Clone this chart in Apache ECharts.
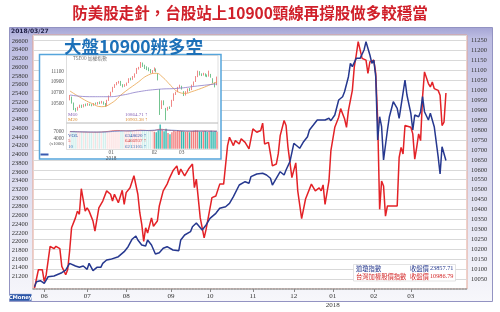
<!DOCTYPE html>
<html>
<head>
<meta charset="utf-8">
<script src="https://cdn.jsdelivr.net/npm/echarts@6.0.0/dist/echarts.min.js"></script>
<style>
html,body{margin:0;padding:0;background:#ffffff;}
#chart{width:500px;height:312px;}
</style>
</head>
<body>
<div id="chart"></div>
<script>
// ---------------- main chart data (x = trading-day index from 2017/05/24) ----------------
const djDays = [
0,1,3,5,7,10,11,14,16,18,
19,21,23,25,27,28,30,32,34,35,
37,39,40,43,46,48,50,52,53,55,
57,58,60,62,64,66,68,69,71,74,
75,77,80,81,83,86,88,90,93,95,
98,100,102,105,106,108,110,111,114,117,
119,121,122,124,126,128,129,131,133,134,
136,138,140,141,143,145,146,149,151,152,
154,156,158,159,161,162,163,165,167,169,
170,172,173,174,175,176,177,178,179,181,
182,184,186,187,190,191,193,194,195,197,
198,199,200,202,203,205,206,207,208,209,
211];
const djValues = [
20964,21078,21102,21041,21193,21209,21179,21285,21347,21501,
21538,21439,21409,21439,21363,21501,21332,21409,21409,21501,
21577,21592,21562,21653,21768,21882,22052,22127,22036,21921,
21898,22036,21921,21714,21745,21845,21882,21845,21806,21790,
22036,22150,22226,22341,22425,22265,22380,22533,22648,22763,
22799,22877,23029,23297,23336,23373,23336,23488,23549,23566,
23527,23451,23297,23451,23602,23527,23641,23832,24254,24215,
24139,24290,24405,24559,24673,24788,24749,24788,24827,24772,
24903,25247,25322,25437,25781,26089,26011,26203,26203,26394,
26584,26279,26089,26164,25781,24329,24864,24634,23870,24559,
24864,25208,25056,24827,25705,25361,24942,24559,24903,24864,
24978,25322,24978,24788,24942,24634,24634,23946,23549,24175,
23857.71];

const twDays = [
0,2,3,4,5,6,8,10,11,13,
14,15,16,17,18,19,21,22,23,24,
25,26,27,28,30,31,32,33,34,35,
37,39,40,41,43,45,46,47,49,51,
52,53,54,55,56,57,58,60,61,63,
64,66,68,69,71,73,74,75,77,79,
81,82,83,85,87,88,89,91,93,95,
97,99,100,102,103,105,106,108,110,112,
114,116,117,118,120,121,122,124,125,126,
128,129,130,131,132,134,135,137,138,139,
140,142,144,146,147,148,149,151,152,154,
156,157,159,160,161,163,164,165,166,167,
168,169,170,171,172,174,175,176,177,178,
179,180,181,186,187,188,189,190,191,193,
194,195,196,197,198,199,200,202,203,204,
205,207,208,209,210,211];
const twValues = [
10004,10097,10102,10097,10038,10072,10215,10203,10215,10203,
10114,10122,10072,10097,10190,10308,10358,10392,10376,10505,
10505,10392,10409,10392,10342,10291,10288,10409,10418,10443,
10494,10477,10443,10477,10434,10497,10426,10485,10510,10570,
10561,10477,10384,10325,10240,10308,10282,10358,10316,10342,
10418,10494,10528,10553,10595,10620,10575,10604,10570,10604,
10629,10510,10553,10358,10257,10300,10291,10460,10468,10528,
10528,10722,10764,10722,10747,10730,10756,10738,10705,10806,
10789,10798,10835,10730,10738,10680,10620,10629,10680,10772,
10848,10823,10713,10705,10561,10635,10494,10354,10350,10453,
10463,10528,10494,10509,10494,10524,10426,10544,10696,10814,
10865,10908,10857,10814,10899,11000,11118,11178,11245,11253,
11161,11169,11152,11085,11144,11152,11085,10848,10401,10544,
10519,10367,10418,10418,10662,10713,10680,10823,10832,10814,
10781,10654,10713,10781,10747,10966,11093,11034,11017,11042,
11009,11000,10975,10823,10840,10986.79];

const monthTickIdx = [5,27,47,70,90,112,133,153,174,193];
const monthLabels = ['06','07','08','09','10','11','12','01\n2018','02','03'];
const seriesNames = ['道瓊指數','台灣加權股價指數'];

// ---------------- inset (TSE daily candles 2017/12 - 2018/03) ----------------
const insetOHLC = [
[10580,10640,10560,10660],[10620,10520,10500,10630],[10510,10400,10380,10520],[10400,10380,10350,10420],[10390,10420,10370,10440],
[10430,10460,10420,10480],[10460,10440,10420,10480],[10440,10480,10430,10490],[10480,10470,10450,10500],[10470,10490,10460,10510],
[10490,10480,10460,10500],[10480,10470,10450,10490],[10470,10500,10460,10510],[10500,10490,10480,10520],[10490,10520,10480,10530],
[10520,10510,10490,10540],[10510,10530,10500,10550],[10530,10500,10480,10540],[10500,10460,10440,10510],[10460,10560,10450,10570],
[10560,10640,10550,10650],
[10650,10710,10640,10720],[10720,10800,10710,10810],[10800,10850,10790,10860],[10850,10880,10840,10900],[10890,10910,10870,10920],
[10910,10850,10830,10920],[10850,10820,10800,10860],[10820,10840,10810,10860],[10840,10880,10830,10890],[10890,10960,10880,10970],
[10960,10950,10930,10980],[10950,11000,10940,11010],[10990,11050,10980,11060],[11060,11150,11050,11160],[11150,11160,11130,11180],
[11170,11250,11160,11270],[11240,11200,11180,11260],[11200,11160,11140,11220],[11160,11150,11120,11190],[11150,11130,11100,11170],
[11120,11080,11060,11140],[11080,11100,11060,11120],
[11110,11150,11100,11170],[11140,11120,11080,11150],[11050,10950,10930,11060],[10760,10400,10290,10770],[10420,10530,10400,10560],
[10520,10500,10470,10560],[10400,10370,10190,10420],[10380,10420,10370,10440],[10430,10420,10400,10450],[10450,10560,10440,10570],
[10560,10680,10550,10690],[10680,10700,10660,10720],[10720,10800,10710,10810],[10800,10830,10790,10850],
[10810,10780,10760,10830],[10720,10660,10640,10730],[10660,10720,10650,10730],[10720,10770,10700,10780],[10770,10750,10730,10790],
[10760,10840,10750,10850],[10840,10900,10830,10910],[10910,11000,10900,11010],[11000,11100,10990,11110],[11090,11040,11020,11100],
[11040,11030,11010,11060],[11030,11050,11020,11070],[11050,11020,11000,11060],[11020,11010,10990,11040],[11010,11060,11000,11110],
[11040,11000,10980,11050],[10960,10900,10880,10970],[10880,10830,10800,10890],[10850,10990,10840,11000]
];
const insetVol = [
7200,7000,7400,6900,6800,6700,7000,6900,7100,6800,6700,6600,6900,6800,6700,7000,6800,7100,7300,7000,7200,
7300,7600,7400,7500,7700,7300,7100,7000,7200,7500,7300,7400,7600,7800,7500,7900,7600,7400,7300,7500,7300,7400,
7000,6800,7600,10000,7800,7200,8200,6500,5900,6800,7400,7100,7600,7300,
7300,7100,6900,7000,6800,7200,7400,7600,7500,7100,7000,7200,7300,6900,7100,7400,7000,7300,7000
];
const insetMA20 = [[0,10733],[6,10598],[11,10505],[16,10443],[21,10505],[27,10690],[34,10876],[40,11030],[44,11061],[47,10998],[52,10813],[55,10720],[59,10690],[62,10720],[67,10783],[72,10857],[75,10903]];
const insetMA60 = [[0,10659],[10,10628],[20,10628],[27,10659],[35,10720],[45,10765],[55,10783],[65,10826],[75,10865]];
const insetVolMA5 = [[0,7100],[6,6900],[12,6800],[18,7000],[24,7500],[30,7300],[36,7600],[42,7400],[46,8000],[50,7600],[56,7300],[62,7200],[68,7300],[75,7200]];
const insetVolMA10 = [[0,7000],[8,6900],[16,6850],[24,7200],[32,7400],[40,7500],[46,7700],[52,7600],[60,7300],[68,7250],[75,7200]];
const insetPriceTicks = [10500,10700,10900,11100];
const insetVolTicks = [4000,7000];
const insetMonthIdx = [21,43,57];
const insetMonthLabels = ['01\n2018','02','03'];
const insetLegendVals = ['10864.71 ↑','10903.38 ↑','6348620 ↑','6466937 ↑','6213105 ↑'];

// ---------------- layout ----------------
const XMIN = -0.77, XMAX = 221.8;
const TW_MAX = 11278.7;
const SERIF = 'Liberation Serif';
const CJK = 'Noto Sans CJK TC';

function txt(x, y, s, size, color, opt) {
  opt = opt || {};
  const align = opt.align || 'left';
  return {
    type: 'text', x: x, y: y, z: opt.z != null ? opt.z : 60, silent: true,
    style: {
      text: s, fontSize: size, fill: color,
      fontFamily: opt.font || SERIF, fontWeight: opt.weight || 'normal',
      align: align, textAlign: align, verticalAlign: 'middle', textVerticalAlign: 'middle',
      lineHeight: opt.lineHeight || undefined
    }
  };
}

const insetIdx = insetOHLC.map((_, i) => String(i));

const graphics = [
  { type: 'rect', z: -10, silent: true,
    shape: { x: 9.5, y: 27.5, width: 483, height: 274 },
    style: { fill: { type: 'linear', x: 0, y: 0, x2: 0, y2: 1, colorStops: [
      { offset: 0, color: '#a3a3d4' }, { offset: 0.04, color: '#bdbde2' },
      { offset: 0.5, color: '#dadaee' }, { offset: 1, color: '#f7f7fb' } ] },
      stroke: '#9393c2', lineWidth: 1 } },
  txt(11, 31.3, '2018/03/27', 6, '#1f1f44', { weight: 'bold', font: 'DejaVu Sans', z: -9 }),
  txt(250, 13, '防美股走針，台股站上10900頸線再撐股做多較穩當', 15.5, '#d0202a', { align: 'center', font: CJK, weight: 'bold', z: 5 }),
  { type: 'rect', z: 5, silent: true, shape: { x: 9.5, y: 294, width: 22, height: 7 },
    style: { fill: '#2b55a6', stroke: '#aab8dd', lineWidth: 0.5 } },
  txt(20.5, 297.6, 'CMoney', 5.3, '#ffffff', { align: 'center', font: 'DejaVu Sans', weight: 'bold', z: 6 }),

  // inset
  { type: 'rect', z: 30, silent: true, shape: { x: 39.5, y: 54.5, width: 181.5, height: 104.5 },
    style: { fill: '#ffffff', stroke: '#55a5dc', lineWidth: 1.5 } },
  { type: 'rect', z: 31, silent: true, shape: { x: 66.5, y: 55.5, width: 151.5, height: 94 },
    style: { fill: 'none', stroke: '#cacaca', lineWidth: 0.6 } },
  { type: 'line', z: 31, silent: true, shape: { x1: 66.5, y1: 123, x2: 218, y2: 123 },
    style: { stroke: '#b8b8b8', lineWidth: 1 } },
  { type: 'rect', z: 32, silent: true, shape: { x: 40.5, y: 153.5, width: 8, height: 2 },
    style: { fill: '#3a5bb0' } },
  txt(64, 46.5, '大盤10900辨多空', 17.5, '#1c70b8', { font: CJK, weight: 'bold', z: 50 }),
  txt(73, 57.8, 'TSE00 加權指數', 4.8, '#777777', { font: CJK, z: 45 }),
  txt(68, 114.5, 'M60', 5, '#8a66b8', { z: 45 }),
  txt(68, 119.2, 'M20', 5, '#d98a30', { z: 45 }),
  txt(125, 114.5, insetLegendVals[0], 5, '#8a66b8', { z: 45 }),
  txt(125, 119.2, insetLegendVals[1], 5, '#d98a30', { z: 45 }),
  txt(68, 135.8, 'VOL', 5, '#3355aa', { z: 45 }),
  txt(68, 140.8, '5', 5, '#d04040', { z: 45 }),
  txt(68, 146.4, '10', 5, '#3a7fc0', { z: 45 }),
  txt(125, 135.8, insetLegendVals[2], 5, '#3355aa', { z: 45 }),
  txt(125, 140.8, insetLegendVals[3], 5, '#d04040', { z: 45 }),
  txt(125, 146.4, insetLegendVals[4], 5, '#3a7fc0', { z: 45 }),
  txt(64, 143.3, '(x1000)', 4.6, '#555555', { align: 'right', z: 45 }),

  // legend box
  { type: 'rect', z: 30, silent: true, shape: { x: 353.5, y: 264.5, width: 102, height: 16.5 },
    style: { fill: '#ffffff', stroke: '#d0d0d0', lineWidth: 0.6 } },
  txt(356, 268.8, seriesNames[0], 6.3, '#24378c', { font: CJK, z: 31 }),
  txt(410, 268.8, '收盤價', 6.3, '#24378c', { font: CJK, z: 31 }),
  txt(453.5, 268.8, djValues[djValues.length - 1].toFixed(2), 6.3, '#24378c', { align: 'right', z: 31 }),
  txt(356, 276.6, seriesNames[1], 6.3, '#d42a2a', { font: CJK, z: 31 }),
  txt(410, 276.6, '收盤價', 6.3, '#d42a2a', { font: CJK, z: 31 }),
  txt(453.5, 276.6, twValues[twValues.length - 1].toFixed(2), 6.3, '#d42a2a', { align: 'right', z: 31 })
];

const option = {
  animation: false,
  backgroundColor: '#ffffff',
  graphic: graphics,
  grid: [
    { left: 33, right: 33, top: 35, bottom: 23, show: true, backgroundColor: '#ffffff', borderColor: '#e3a393', borderWidth: 1 },
    { left: 33, right: 33, top: 32.28, bottom: 18.12 },
    { left: 69, right: 282, top: 60.4, bottom: 186.8, z: 40 },
    { left: 69, right: 282, top: 124.4, bottom: 163.3, z: 40 }
  ],
  xAxis: [
    { gridIndex: 0, type: 'value', min: XMIN, max: XMAX,
      axisLine: { show: true, lineStyle: { color: '#9a9a9a', type: 'dotted', width: 1.5 } },
      axisTick: { show: true, customValues: monthTickIdx, length: 3, lineStyle: { color: '#888' } },
      axisLabel: { customValues: monthTickIdx, fontSize: 7, color: '#333', margin: 3, lineHeight: 8.5, fontFamily: SERIF,
        formatter: function (v) { const k = monthTickIdx.indexOf(Math.round(v)); return k >= 0 ? monthLabels[k] : ''; } },
      splitLine: { show: false } },
    { gridIndex: 1, type: 'value', min: XMIN, max: XMAX, show: false },
    { gridIndex: 2, type: 'category', data: insetIdx, boundaryGap: true, show: false, z: 40 },
    { gridIndex: 3, type: 'category', data: insetIdx, boundaryGap: true, z: 40,
      axisLine: { show: false }, axisTick: { show: false },
      axisLabel: { fontSize: 5.3, color: '#555', margin: 1.5, lineHeight: 5.5, fontFamily: SERIF,
        interval: function (i) { return insetMonthIdx.indexOf(i) >= 0; },
        formatter: function (v) { const k = insetMonthIdx.indexOf(+v); return k >= 0 ? insetMonthLabels[k] : ''; } } }
  ],
  yAxis: [
    { gridIndex: 0, type: 'value', position: 'right', min: 10000, max: TW_MAX, interval: 50,
      axisLine: { show: false }, axisTick: { show: false },
      axisLabel: { fontSize: 6.5, color: '#333', margin: 4, fontFamily: SERIF,
        formatter: function (v) { return (v >= 10050 && v <= 11250) ? String(v) : ''; } },
      splitLine: { show: true, lineStyle: { color: '#d9d9d9', width: 1 } } },
    { gridIndex: 1, type: 'value', position: 'left', min: 20800, max: 26800, interval: 200,
      axisLine: { show: false }, axisTick: { show: false },
      axisLabel: { fontSize: 6.5, color: '#333', margin: 5, fontFamily: SERIF,
        formatter: function (v) { return (v >= 21200 && v <= 26600) ? String(v) : ''; } },
      splitLine: { show: false } },
    { gridIndex: 2, type: 'value', min: 10100, max: 11300, interval: 100, z: 40,
      axisLine: { show: false }, axisTick: { show: false }, splitLine: { show: false },
      axisLabel: { fontSize: 5.3, color: '#555', margin: 5, fontFamily: SERIF,
        formatter: function (v) { return insetPriceTicks.indexOf(v) >= 0 ? String(v) : ''; } } },
    { gridIndex: 3, type: 'value', min: 0, max: 10000, interval: 1000, z: 40,
      axisLine: { show: false }, axisTick: { show: false }, splitLine: { show: false },
      axisLabel: { fontSize: 5.3, color: '#555', margin: 5, fontFamily: SERIF,
        formatter: function (v) { return insetVolTicks.indexOf(v) >= 0 ? String(v) : ''; } } }
  ],
  series: [
    { name: seriesNames[1], type: 'line', xAxisIndex: 0, yAxisIndex: 0, z: 3,
      data: twDays.map((d, i) => [d, twValues[i]]), symbol: 'none',
      lineStyle: { color: '#e32227', width: 1.5 }, itemStyle: { color: '#e32227' } },
    { name: seriesNames[0], type: 'line', xAxisIndex: 1, yAxisIndex: 1, z: 4,
      data: djDays.map((d, i) => [d, djValues[i]]), symbol: 'none',
      lineStyle: { color: '#26388f', width: 1.5 }, itemStyle: { color: '#26388f' } },

    { type: 'candlestick', xAxisIndex: 2, yAxisIndex: 2, z: 40, data: insetOHLC, barWidth: 1.3,
      itemStyle: { color: '#e53935', color0: '#169c45', borderColor: '#e53935', borderColor0: '#169c45', borderWidth: 0.6 },
      markArea: { silent: true, itemStyle: { color: 'rgba(245,165,100,0.7)' },
        data: [[{ yAxis: 10875 }, { yAxis: 10925 }]] } },
    { type: 'line', xAxisIndex: 2, yAxisIndex: 2, z: 41, data: insetMA20, smooth: true, symbol: 'none',
      lineStyle: { color: '#e9a24a', width: 0.8 } },
    { type: 'line', xAxisIndex: 2, yAxisIndex: 2, z: 41, data: insetMA60, smooth: true, symbol: 'none',
      lineStyle: { color: '#8c7cc8', width: 0.8 } },
    { type: 'bar', xAxisIndex: 3, yAxisIndex: 3, z: 40, barWidth: 1.4,
      data: insetVol.map((v, i) => ({ value: v, itemStyle: {
        color: insetOHLC[i][1] >= insetOHLC[i][0] ? '#f28080' : '#36bab1',
        opacity: i < 43 ? 0.22 : 1 } })) },
    { type: 'line', xAxisIndex: 3, yAxisIndex: 3, z: 41, data: insetVolMA5, smooth: true, symbol: 'none',
      lineStyle: { color: '#d85050', width: 0.7 } },
    { type: 'line', xAxisIndex: 3, yAxisIndex: 3, z: 41, data: insetVolMA10, smooth: true, symbol: 'none',
      lineStyle: { color: '#4a6cc0', width: 0.7 } }
  ]
};

const chart = echarts.init(document.getElementById('chart'), null, { renderer: 'canvas' });
chart.setOption(option);
</script>
</body>
</html>
